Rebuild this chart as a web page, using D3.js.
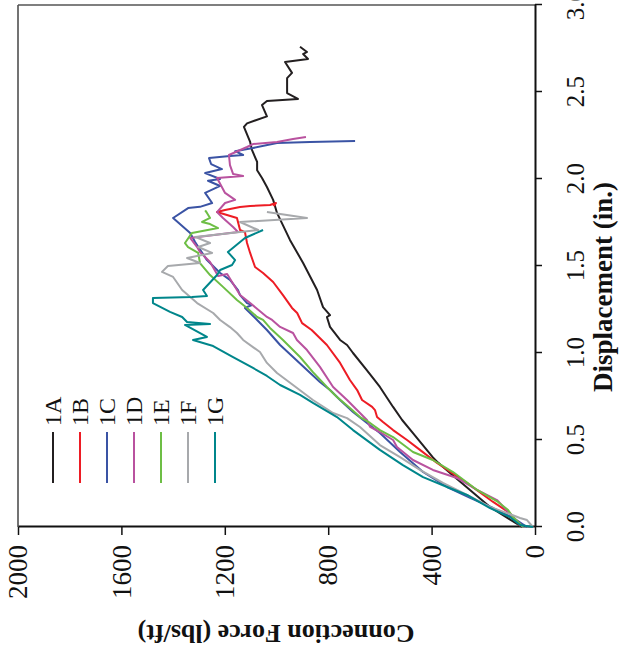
<!DOCTYPE html>
<html>
<head>
<meta charset="utf-8">
<script src="https://cdn.jsdelivr.net/npm/d3@7"></script>
<style>
  body { margin: 0; background: #fff; }
  text { font-family: "Liberation Serif", "Times New Roman", serif; }
</style>
</head>
<body>
<div id="chart"></div>
<script>
// series labels and colours
var seriesNames = ["1A", "1B", "1C", "1D", "1E", "1F", "1G"];
var seriesColors = ["#231f20", "#ed1c24", "#3a53a4", "#b9529f", "#6dbe45", "#a7a9ac", "#00868b"];

// [displacement (in.), connection force (lbs/ft)]
var data1A = [[0.000,50],[0.115,174],[0.300,321],[0.370,375],[0.400,395],[0.540,472],[0.615,514],[0.690,549],[0.805,600],[0.900,650],[1.000,704],[1.046,727],[1.075,754],[1.150,793],[1.207,805],[1.218,793],[1.264,820],[1.362,843],[1.517,897],[1.650,948],[1.805,998],[1.880,1013],[1.954,1037],[2.006,1056],[2.050,1075],[2.098,1075],[2.167,1095],[2.213,1102],[2.300,1126],[2.320,1114],[2.360,1037],[2.425,1056],[2.448,1037],[2.460,917],[2.494,959],[2.580,959],[2.610,940],[2.672,967],[2.690,878],[2.718,897],[2.730,882],[2.760,909]];
var data1B = [[0.006,58],[0.080,97],[0.144,162],[0.253,263],[0.368,379],[0.443,445],[0.500,495],[0.557,549],[0.603,588],[0.632,611],[0.672,619],[0.690,630],[0.730,669],[0.787,688],[0.845,716],[0.943,754],[1.046,805],[1.132,864],[1.172,901],[1.230,920],[1.259,940],[1.333,975],[1.408,1013],[1.460,1052],[1.494,1083],[1.575,1102],[1.632,1114],[1.695,1122],[1.707,1141],[1.776,1153],[1.810,1230],[1.822,1199],[1.839,1141],[1.845,1102],[1.851,1025],[1.862,1002],[1.845,1012]];
var data1C = [[0.000,31],[0.052,85],[0.109,162],[0.167,251],[0.230,340],[0.316,433],[0.431,522],[0.540,600],[0.598,650],[0.661,704],[0.730,754],[0.787,793],[0.833,832],[0.902,882],[0.977,936],[1.046,986],[1.132,1037],[1.190,1075],[1.259,1122],[1.276,1095],[1.287,1114],[1.333,1141],[1.362,1149],[1.420,1180],[1.460,1218],[1.534,1269],[1.638,1315],[1.690,1334],[1.776,1400],[1.833,1342],[1.840,1296],[1.862,1249],[1.920,1276],[1.960,1218],[1.990,1265],[2.000,1218],[2.034,1276],[2.057,1211],[2.086,1253],[2.120,1261],[2.132,1180],[2.138,1129],[2.160,1160],[2.178,1091],[2.207,998],[2.213,870],[2.218,696]];
var data1D = [[0.000,46],[0.057,85],[0.155,147],[0.213,224],[0.282,302],[0.328,395],[0.385,472],[0.460,534],[0.500,549],[0.546,600],[0.575,638],[0.615,650],[0.655,677],[0.730,727],[0.805,781],[0.920,832],[1.017,882],[1.075,921],[1.115,936],[1.150,986],[1.190,1017],[1.207,1037],[1.287,1102],[1.333,1141],[1.454,1191],[1.443,1226],[1.523,1257],[1.580,1296],[1.609,1307],[1.661,1334],[1.695,1149],[1.724,1168],[1.776,1207],[1.810,1230],[1.862,1199],[1.880,1160],[1.920,1199],[2.006,1230],[2.017,1129],[2.029,1168],[2.080,1180],[2.138,1184],[2.184,1114],[2.201,1091],[2.213,998],[2.230,936],[2.241,886]];
var data1E = [[0.000,46],[0.057,85],[0.098,104],[0.144,143],[0.213,224],[0.316,317],[0.385,395],[0.431,472],[0.517,549],[0.557,600],[0.598,638],[0.632,677],[0.684,716],[0.747,766],[0.805,805],[0.890,859],[0.977,909],[1.075,975],[1.144,1025],[1.190,1052],[1.207,1075],[1.259,1114],[1.305,1153],[1.380,1207],[1.448,1257],[1.517,1296],[1.575,1303],[1.609,1342],[1.632,1354],[1.690,1327],[1.718,1226],[1.741,1257],[1.753,1288],[1.776,1257],[1.805,1269],[1.820,1276]];
var data1F = [[0.000,8],[0.040,31],[0.052,58],[0.080,108],[0.115,174],[0.184,263],[0.253,356],[0.328,445],[0.402,522],[0.471,600],[0.575,677],[0.626,727],[0.655,781],[0.730,859],[0.816,936],[0.885,998],[0.943,1037],[1.006,1064],[1.034,1091],[1.075,1129],[1.115,1153],[1.149,1180],[1.190,1218],[1.230,1245],[1.287,1307],[1.362,1365],[1.437,1400],[1.466,1443],[1.500,1420],[1.517,1296],[1.546,1346],[1.575,1249],[1.609,1303],[1.632,1257],[1.667,1315],[1.707,1071],[1.753,1141],[1.776,882],[1.810,1037]];
var data1G = [[0.000,8],[0.011,58],[0.057,97],[0.109,174],[0.184,263],[0.230,340],[0.287,433],[0.356,511],[0.443,600],[0.557,704],[0.632,766],[0.713,859],[0.759,909],[0.816,986],[0.868,1037],[0.914,1091],[0.977,1168],[1.040,1245],[1.075,1323],[1.092,1269],[1.161,1354],[1.167,1257],[1.178,1346],[1.207,1365],[1.236,1412],[1.287,1478],[1.316,1478],[1.322,1327],[1.328,1269],[1.362,1284],[1.448,1230],[1.477,1218],[1.506,1172],[1.534,1160],[1.580,1188],[1.661,1122],[1.707,1052]];

var dispTicks = [0, 0.5, 1.0, 1.5, 2.0, 2.5, 3.0];
var forceTicks = [0, 400, 800, 1200, 1600, 2000];

var allSeries = [data1A, data1B, data1C, data1D, data1E, data1F, data1G];

// plot size in the un-turned frame
var width = 522,
    height = 517;

var svg = d3.select("#chart")
    .append("svg")
    .attr("width", 619)
    .attr("height", 655)
    .style("background", "#fff");

// the figure is drawn as a normal x/y chart, then turned 90 deg counter-clockwise
var g = svg.append("g")
    .attr("transform", "translate(18,527) rotate(-90)");

var x = d3.scaleLinear().domain([0, 3]).range([0, width]);
var y = d3.scaleLinear().domain([0, 2000]).range([height, 0]);

// frame on the two open sides
g.append("line")
    .attr("x1", 0).attr("x2", width).attr("y1", 0).attr("y2", 0)
    .attr("stroke", "#444").attr("stroke-width", 1.5);
g.append("line")
    .attr("x1", width).attr("x2", width).attr("y1", 0).attr("y2", height)
    .attr("stroke", "#555").attr("stroke-width", 1.5);

// displacement axis
var xAxis = g.append("g")
    .attr("transform", `translate(0,${height})`)
    .call(d3.axisBottom(x)
        .tickValues(dispTicks)
        .tickFormat(d3.format(".1f"))
        .tickSize(7)
        .tickSizeOuter(0)
        .tickPadding(24));
xAxis.select(".domain").attr("stroke", "#111").attr("stroke-width", 2);
xAxis.selectAll(".tick line").attr("stroke", "#111").attr("stroke-width", 1.5);
xAxis.selectAll("text")
    .style("font-family", "Liberation Serif, serif")
    .style("font-size", "25px")
    .attr("fill", "#111");

// force axis
var yAxis = g.append("g")
    .call(d3.axisLeft(y)
        .tickValues(forceTicks)
        .tickFormat(d3.format("d"))
        .tickSize(8)
        .tickSizeOuter(0)
        .tickPadding(10));
yAxis.select(".domain").attr("stroke", "#111").attr("stroke-width", 2);
yAxis.selectAll(".tick line").attr("stroke", "#111").attr("stroke-width", 1.5);
yAxis.selectAll("text")
    .style("font-family", "Liberation Serif, serif")
    .style("font-size", "27px")
    .attr("fill", "#111");

// curves
var line = d3.line()
    .x(d => x(d[0]))
    .y(d => y(d[1]));

g.selectAll(".curve")
    .data(allSeries)
    .join("path")
    .attr("class", "curve")
    .attr("fill", "none")
    .attr("stroke", (d, i) => seriesColors[i])
    .attr("stroke-width", 2)
    .attr("stroke-linejoin", "round")
    .attr("d", line);

// legend
var legend = g.append("g")
    .selectAll("g")
    .data(seriesNames)
    .join("g")
    .attr("transform", (d, i) => `translate(0,${35 + i * 27})`);

legend.append("line")
    .attr("x1", 44).attr("x2", 95)
    .attr("y1", 0).attr("y2", 0)
    .attr("stroke", (d, i) => seriesColors[i])
    .attr("stroke-width", 2);

legend.append("text")
    .attr("x", 101)
    .attr("y", 0)
    .attr("dy", "0.35em")
    .style("font-size", "24px")
    .attr("fill", "#111")
    .text(d => d);

// axis titles
g.append("text")
    .attr("x", 240)
    .attr("y", 594)
    .attr("text-anchor", "middle")
    .style("font-size", "27px")
    .style("font-weight", "bold")
    .attr("fill", "#111")
    .text("Displacement (in.)");

g.append("text")
    .attr("transform", "rotate(-90)")
    .attr("x", -258)
    .attr("y", -98)
    .attr("text-anchor", "middle")
    .style("font-size", "26px")
    .style("font-weight", "bold")
    .attr("fill", "#111")
    .text("Connection Force (lbs/ft)");
</script>
</body>
</html>
